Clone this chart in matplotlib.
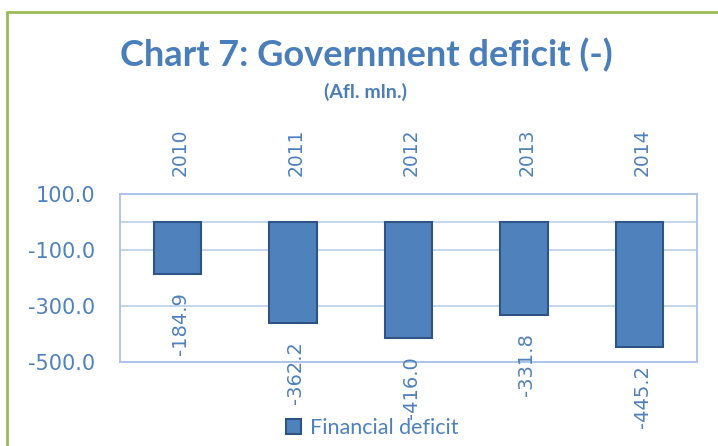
import matplotlib
matplotlib.use("Agg")
import matplotlib.pyplot as plt
from matplotlib.patches import Rectangle
from matplotlib.transforms import blended_transform_factory

years = ["2010", "2011", "2012", "2013", "2014"]
deficit = [-184.9, -362.2, -416.0, -331.8, -445.2]
yticks = [100.0, -100.0, -300.0, -500.0]
series_name = "Financial deficit"
title = "Chart 7: Government deficit (-)"
subtitle = "(Afl. mln.)"

BLUE = "#4f81bd"
EDGE = "#2f5483"
TXT = "#4f81bd"
GRID = "#bfd2ee"
FRAME = "#a9c2e6"

fig = plt.figure(figsize=(7.18, 4.46), dpi=100)
fig.patch.set_facecolor("white")

# outer chart border (olive green), extends past right/bottom
fig.add_artist(Rectangle((7/718, -0.1), 1.2, 1 - 12/446 + 0.1,
                         transform=fig.transFigure, fill=False,
                         edgecolor="#9bbb59", linewidth=2.0))

ax = fig.add_axes([120/718, 1 - 362/446, (697-120)/718, (362-194)/446])
x = list(range(len(years)))
bars = ax.bar(x, deficit, width=0.41, color=BLUE, edgecolor=EDGE,
              linewidth=1.5, label=series_name, zorder=3)
ax.set_xlim(-0.5, len(years) - 0.5)
ax.set_ylim(-500, 100)
ax.set_yticks(yticks)
ax.set_yticklabels([f"{v:.1f}" for v in yticks], color=TXT,
                   fontsize=15, family="DejaVu Sans")
ax.tick_params(axis="y", length=0, pad=18)
ax.set_xticks([])
for v in yticks:
    ax.axhline(v, color=GRID, linewidth=1.3, zorder=1)
ax.axhline(0, color=GRID, linewidth=1.3, zorder=1)
for s in ax.spines.values():
    s.set_color(FRAME)
    s.set_linewidth(1.3)

for xi, v in zip(x, deficit):
    ax.annotate(f"{v:.1f}", xy=(xi, v), xytext=(2, -13),
                textcoords="offset points", rotation=90, ha="center",
                va="top", fontsize=14, color=TXT, family="DejaVu Sans")

tr = blended_transform_factory(ax.transData, ax.transAxes)
for xi, yr in zip(x, years):
    ax.annotate(yr, xy=(xi, 1), xycoords=tr, xytext=(2, 13),
                textcoords="offset points", rotation=90, ha="center",
                va="bottom", fontsize=13.5, color=TXT, family="DejaVu Sans")

fig.text(366/718, 1 - 55/446, title, ha="center", va="center",
         fontsize=26, fontweight="bold", color="#4a7ebb", family="Lato")
fig.text(366/718, 1 - 92/446, subtitle, ha="center", va="center",
         fontsize=14, fontweight="bold", color="#4a7ebb", family="Lato")

leg = fig.legend(handles=[bars], labels=[series_name],
                 loc="center", bbox_to_anchor=(372/718, 1 - 428/446),
                 frameon=False, handlelength=0.7,
                 handleheight=0.7, handletextpad=0.4,
                 prop={"family": "Lato", "size": 15.5})
for t in leg.get_texts():
    t.set_color(TXT)

fig.savefig("out.png", dpi=100)
